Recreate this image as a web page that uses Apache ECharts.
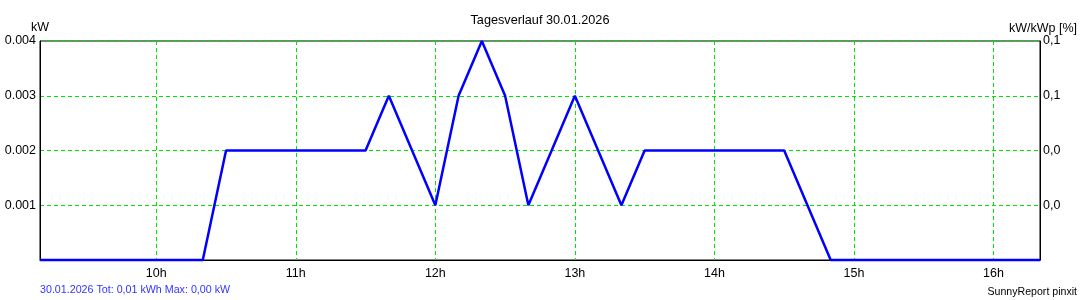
<!DOCTYPE html>
<html>
<head>
<meta charset="utf-8">
<script src="https://cdn.jsdelivr.net/npm/echarts@6/dist/echarts.min.js"></script>
<style>
html,body{margin:0;padding:0;background:#fff;}
#chart{width:1080px;height:300px;}
</style>
</head>
<body>
<div id="chart"></div>
<script>
var times = ["09:10","09:20","09:30","09:40","09:50","10:00","10:10","10:20","10:30","10:40",
  "10:50","11:00","11:10","11:20","11:30","11:40","11:50","12:00","12:10","12:20",
  "12:30","12:40","12:50","13:00","13:10","13:20","13:30","13:40","13:50","14:00",
  "14:10","14:20","14:30","14:40","14:50","15:00","15:10","15:20","15:30","15:40",
  "15:50","16:00","16:10","16:20"];
var powerKW = [0,0,0,0,0,0,0,0,0.002,0.002,
  0.002,0.002,0.002,0.002,0.002,0.003,0.002,0.001,0.003,0.004,
  0.003,0.001,0.002,0.003,0.002,0.001,0.002,0.002,0.002,0.002,
  0.002,0.002,0.002,0.001,0,0,0,0,0,0,
  0,0,0,0];
var leftTickLabels = ["", "0.001", "0.002", "0.003", "0.004"];
var rightTickLabels = ["", "0,0", "0,0", "0,1", "0,1"];
var titleText = "Tagesverlauf 30.01.2026";
var leftUnit = "kW";
var rightUnit = "kW/kWp [%]";
var footerLeft = "30.01.2026 Tot: 0,01 kWh Max: 0,00 kW";
var footerRight = "SunnyReport pinxit";

var FONT = "'Liberation Sans', Arial, sans-serif";
var fullHour = function (idx, val) { return /:00$/.test(val); };
var tickIdx = function (v) { return Math.round(v / 0.001); };
var GREEN = '#00e600';

var chart = echarts.init(document.getElementById('chart'), null, {renderer: 'canvas'});
chart.setOption({
  animation: false,
  backgroundColor: '#fff',
  textStyle: {fontFamily: FONT},
  title: [
    {text: titleText, left: 'center', top: 14, padding: 0, textStyle: {fontFamily: FONT, fontSize: 12.7, fontWeight: 'normal', color: '#000'}},
    {text: leftUnit, left: 31, top: 21, padding: 0, textStyle: {fontFamily: FONT, fontSize: 12.5, fontWeight: 'normal', color: '#000'}},
    {text: rightUnit, right: 3, top: 22, padding: 0, textStyle: {fontFamily: FONT, fontSize: 12.5, fontWeight: 'normal', color: '#000'}},
    {text: footerLeft, left: 40, top: 285, padding: 0, textStyle: {fontFamily: FONT, fontSize: 10.7, fontWeight: 'normal', color: '#3333ff'}},
    {text: footerRight, right: 3, top: 287, padding: 0, textStyle: {fontFamily: FONT, fontSize: 10.6, fontWeight: 'normal', color: '#000'}}
  ],
  grid: {left: 40, right: 40, top: 41, bottom: 40, show: true, borderColor: '#000', borderWidth: 1, backgroundColor: '#fff'},
  xAxis: {
    type: 'category',
    data: times,
    boundaryGap: false,
    axisLine: {show: true, lineStyle: {color: '#000', width: 1}},
    axisTick: {show: false},
    axisLabel: {interval: fullHour, formatter: function (v) { return parseInt(v, 10) + 'h'; }, color: '#000', fontFamily: FONT, fontSize: 12.5, margin: 7},
    splitLine: {show: true, interval: fullHour, lineStyle: {color: GREEN, type: [4, 3], width: 1}}
  },
  yAxis: [
    {
      type: 'value', min: 0, max: 0.004, interval: 0.001, position: 'left',
      axisLine: {show: true, lineStyle: {color: '#000', width: 1}},
      axisTick: {show: false},
      axisLabel: {formatter: function (v) { return leftTickLabels[tickIdx(v)] || ''; }, color: '#000', fontFamily: FONT, fontSize: 12.5, margin: 4},
      splitLine: {show: true, lineStyle: {color: GREEN, type: [4, 3], width: 1}}
    },
    {
      type: 'value', min: 0, max: 0.004, interval: 0.001, position: 'right',
      axisLine: {show: true, lineStyle: {color: '#000', width: 1}},
      axisTick: {show: false},
      axisLabel: {formatter: function (v) { return rightTickLabels[tickIdx(v)] || ''; }, color: '#000', fontFamily: FONT, fontSize: 12.5, margin: 3},
      splitLine: {show: false}
    }
  ],
  series: [{
    type: 'line',
    data: powerKW,
    yAxisIndex: 0,
    symbol: 'none',
    smooth: false,
    clip: false,
    lineStyle: {color: '#0000ff', width: 2.5}
  }]
});
</script>
</body>
</html>
